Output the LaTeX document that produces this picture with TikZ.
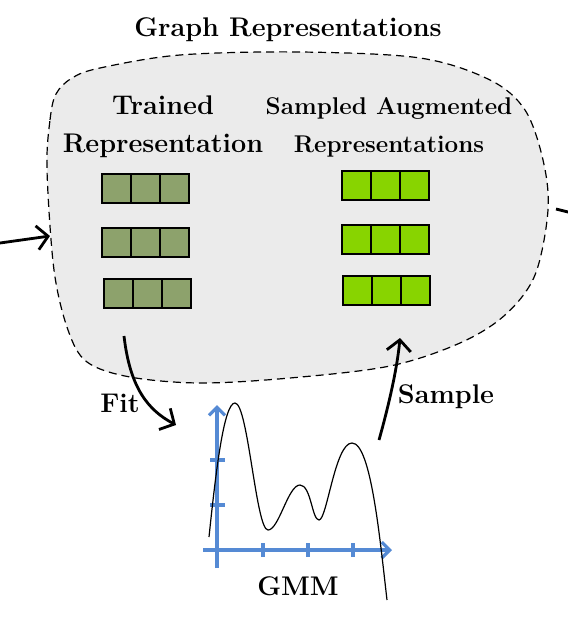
\documentclass[tikz,border=0pt]{standalone}
\usetikzlibrary{arrows.meta, positioning}

\definecolor{blobgray}{RGB}{235,235,235}
\definecolor{trainedgreen}{RGB}{141,162,108}
\definecolor{sampledgreen}{RGB}{136,212,0}
\definecolor{axisblue}{RGB}{85,138,212}

\tikzset{
  lbl/.style={font=\bfseries\fontsize{13.5}{19}\selectfont, align=center},
  tcell/.style={draw, line width=0.9pt, fill=trainedgreen, minimum width=14.5pt, minimum height=14.5pt, inner sep=0pt},
  scell/.style={tcell, fill=sampledgreen},
  bigarrow/.style={line width=1.4pt, -{Straight Barb[length=5.5pt, width=12pt]}},
  axis/.style={axisblue, line width=1.6pt}
}

\begin{document}
\begin{tikzpicture}[x=0.5pt, y=-0.5pt]
  \useasboundingbox (0,0) rectangle (567,631);

  % cloud of representations
  \draw[dash pattern=on 4pt off 2.5pt, line width=0.6pt, fill=blobgray]
    plot[smooth cycle, tension=0.55] coordinates {(47,170) (50,120) (56,94) (72,78) (100,68) (180,55) (300,52) (420,58) (490,80) (525,110) (543,160) (548,210) (535,275) (505,315) (460,343) (390,366) (290,378) (200,383) (130,377) (87,362) (68,330) (54,270)};

  \node[lbl] (title) at (288,30) {Graph Representations};
  \node[lbl] (trained) at (163,127) {Trained\\Representation};
  \node[lbl, font=\bfseries\fontsize{12.1}{19}\selectfont] (sampled) at (389,127) {Sampled Augmented\\Representations};

  % vectors
  \foreach \r/\y/\dx in {1/188.5/0, 2/242.5/0, 3/293.5/2}
    \foreach \c in {1,2,3}
      \node[tcell] (t\r\c) at ({87.5+29*\c+\dx},\y) {};
  \foreach \r/\y/\dx in {1/185.5/0, 2/239.5/0, 3/290.5/1}
    \foreach \c in {1,2,3}
      \node[scell] (s\r\c) at ({327.5+29*\c+\dx},\y) {};

  % arrows in and out
  \coordinate (inL) at (0,243);
  \coordinate (inR) at (50,236);
  \draw[bigarrow] (inL) -- (inR);
  \coordinate (outA) at (556,209);
  \coordinate (outB) at (580,215);
  \draw[line width=1.4pt] (outA) -- (outB);

  % fit and sample
  \coordinate (fitS) at (124,336);
  \coordinate (fitE) at (176,425);
  \draw[bigarrow] (fitS) .. controls (130,388) and (148,410) .. (fitE);
  \node[lbl] (fit) at (120,403) {Fit};
  \coordinate (smpS) at (379,440);
  \coordinate (smpE) at (400,338);
  \draw[bigarrow] (smpS) .. controls (388,408) and (397,370) .. (smpE);
  \node[lbl] (sample) at (446,397) {Sample};

  % gmm plot
  \coordinate (ybot) at (217,568);
  \coordinate (ytop) at (217,405);
  \coordinate (xl) at (203,550);
  \coordinate (xr) at (392,550);
  \draw[axis, -{Straight Barb[length=4pt, width=8pt]}] (ybot) -- (ytop);
  \draw[axis, -{Straight Barb[length=4pt, width=8pt]}] (xl) -- (xr);
  \foreach \x in {263,308,353}
    \draw[axis] (\x,543) -- (\x,557);
  \foreach \y in {460,505}
    \draw[axis] (210,\y) -- (225,\y);
  \draw[line width=0.6pt] (209,537) .. controls (216,470) and (224,403) .. (235,403)
    .. controls (248,403) and (256,530) .. (268,530)
    .. controls (279,530) and (288,485) .. (300,485)
    .. controls (311,485) and (312,520) .. (319,520)
    .. controls (327,520) and (335,443) .. (352,443)
    .. controls (371,443) and (380,540) .. (387,600);
  \node[lbl] (gmm) at (298,586) {GMM};
\end{tikzpicture}
\end{document}
